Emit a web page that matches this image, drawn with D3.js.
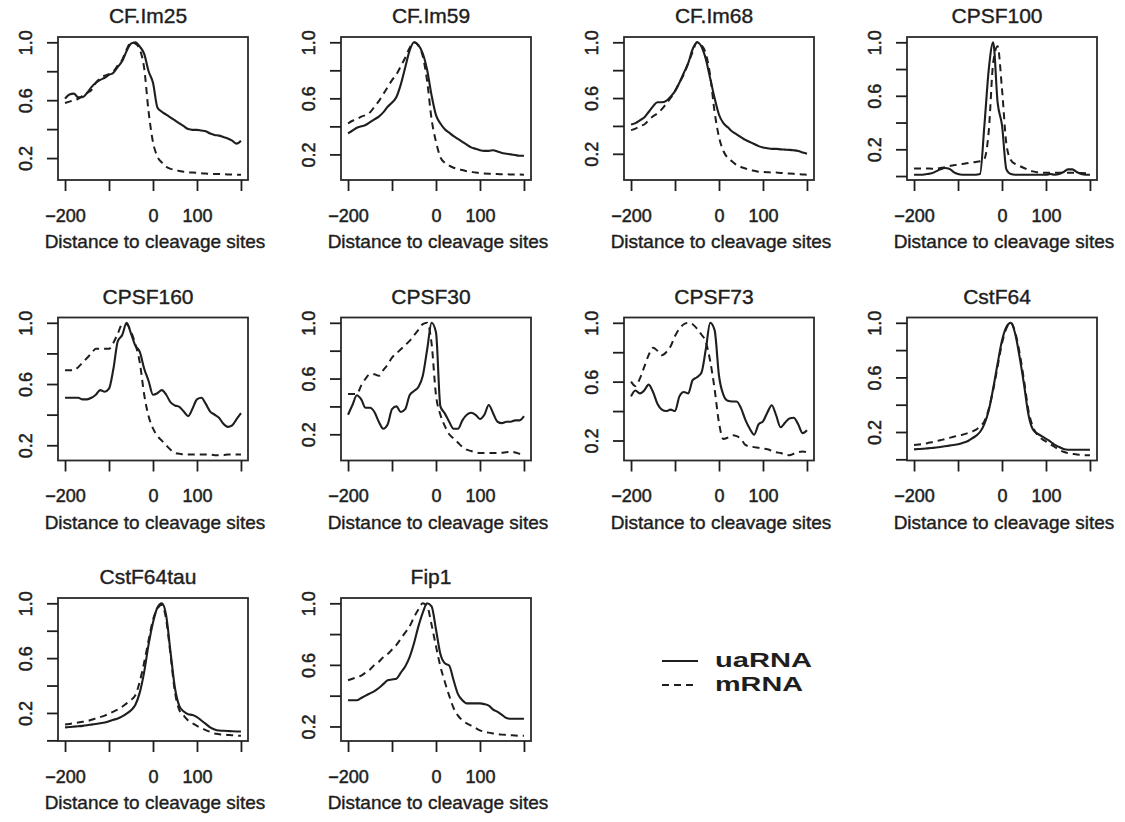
<!DOCTYPE html>
<html>
<head>
<meta charset="utf-8">
<script src="https://cdn.jsdelivr.net/npm/d3@7"></script>
<style>
  html, body { margin: 0; padding: 0; background: #fff; }
  svg { display: block; font-family: "Liberation Sans", Arial, Helvetica, sans-serif; }
</style>
</head>
<body>
<svg id="chart" width="1125" height="822"></svg>
<script>
// distance to cleavage site (nt), shared by all curves
const positions = d3.range(-200, 201, 10);

const proteins = ["CF.Im25", "CF.Im59", "CF.Im68", "CPSF100", "CPSF160",
  "CPSF30", "CPSF73", "CstF64", "CstF64tau", "Fip1"];

// normalised signal, uaRNA (solid) and mRNA (dashed), x = -200..200 step 10
const cfim25Ua = [0.61,0.64,0.645,0.62,0.62,0.65,0.69,0.72,0.74,0.755, 0.775,0.79,0.83,0.87,0.94,0.99,1.0,0.97,0.92,0.80, 0.72,0.55,0.52,0.50,0.48,0.46,0.44,0.42,0.40,0.395, 0.395,0.39,0.385,0.37,0.36,0.355,0.345,0.335,0.32,0.30, 0.32];
const cfim25M = [0.58,0.59,0.60,0.61,0.63,0.65,0.67,0.72,0.75,0.77, 0.78,0.80,0.84,0.88,0.95,1.0,0.99,0.95,0.82,0.52, 0.31,0.21,0.17,0.14,0.125,0.12,0.11,0.105,0.10,0.10, 0.098,0.095,0.093,0.09,0.09,0.09,0.088,0.087,0.086,0.085, 0.085];

const cfim59Ua = [0.35,0.37,0.39,0.40,0.41,0.43,0.45,0.47,0.50,0.54, 0.57,0.61,0.70,0.82,0.94,1.0,0.98,0.92,0.80,0.62, 0.48,0.42,0.38,0.355,0.33,0.31,0.29,0.27,0.25,0.24, 0.23,0.225,0.225,0.23,0.22,0.21,0.205,0.20,0.195,0.19, 0.19];
const cfim59M = [0.42,0.44,0.45,0.47,0.48,0.50,0.54,0.58,0.63,0.68, 0.73,0.77,0.83,0.89,0.96,1.0,0.975,0.90,0.72,0.45, 0.29,0.18,0.14,0.12,0.105,0.095,0.088,0.08,0.075,0.07, 0.066,0.064,0.062,0.06,0.06,0.058,0.058,0.057,0.056,0.056, 0.055];

const cfim68Ua = [0.41,0.42,0.44,0.46,0.50,0.54,0.57,0.57,0.58,0.61, 0.65,0.71,0.78,0.85,0.95,1.0,0.97,0.88,0.74,0.60, 0.48,0.42,0.39,0.36,0.34,0.32,0.30,0.285,0.27,0.255, 0.245,0.24,0.235,0.235,0.232,0.23,0.228,0.225,0.22,0.21, 0.20];
const cfim68M = [0.37,0.38,0.40,0.41,0.44,0.47,0.49,0.52,0.56,0.60, 0.65,0.71,0.77,0.85,0.93,1.0,0.98,0.92,0.76,0.50, 0.32,0.22,0.17,0.145,0.12,0.105,0.095,0.085,0.078,0.072, 0.07,0.068,0.066,0.065,0.063,0.06,0.058,0.056,0.054,0.052, 0.05];

const cpsf100Ua = [0.01,0.01,0.01,0.015,0.02,0.035,0.05,0.06,0.055,0.03, 0.015,0.01,0.01,0.01,0.01,0.015,0.38,0.80,1.0,0.55, 0.38,0.05,0.015,0.01,0.01,0.01,0.01,0.01,0.01,0.01, 0.01,0.015,0.01,0.015,0.03,0.05,0.05,0.03,0.015,0.01, 0.01];
const cpsf100M = [0.057,0.057,0.056,0.056,0.055,0.055,0.06,0.065,0.075,0.08, 0.085,0.09,0.095,0.10,0.105,0.11,0.13,0.34,0.85,0.97, 0.65,0.24,0.12,0.09,0.075,0.06,0.045,0.035,0.028,0.025, 0.024,0.024,0.024,0.024,0.024,0.024,0.024,0.023,0.022,0.021, 0.02];

const cpsf160Ua = [0.51,0.51,0.51,0.51,0.50,0.50,0.51,0.53,0.56,0.55, 0.57,0.70,0.88,0.92,1.0,0.93,0.85,0.81,0.70,0.62, 0.53,0.54,0.56,0.53,0.48,0.46,0.45,0.42,0.39,0.44, 0.50,0.51,0.47,0.42,0.40,0.38,0.34,0.32,0.33,0.37, 0.41];
const cpsf160M = [0.69,0.69,0.69,0.71,0.74,0.77,0.80,0.83,0.83,0.83, 0.83,0.87,0.93,0.99,0.99,0.94,0.86,0.74,0.53,0.39, 0.31,0.26,0.23,0.20,0.17,0.15,0.145,0.14,0.14,0.14, 0.14,0.14,0.14,0.14,0.135,0.135,0.135,0.14,0.14,0.14, 0.14];

const cpsf30Ua = [0.34,0.41,0.48,0.45,0.39,0.39,0.36,0.29,0.24,0.27, 0.38,0.40,0.36,0.38,0.48,0.51,0.54,0.62,0.81,1.0, 0.93,0.40,0.35,0.29,0.24,0.24,0.30,0.34,0.355,0.34, 0.31,0.34,0.41,0.35,0.29,0.28,0.29,0.29,0.30,0.30, 0.33];
const cpsf30M = [0.49,0.49,0.49,0.55,0.60,0.63,0.63,0.62,0.66,0.70, 0.75,0.78,0.81,0.84,0.87,0.91,0.95,0.99,1.0,0.85, 0.48,0.34,0.26,0.20,0.17,0.14,0.11,0.09,0.08,0.07, 0.065,0.065,0.065,0.065,0.065,0.068,0.072,0.075,0.07,0.06, 0.05];

const cpsf73Ua = [0.50,0.54,0.52,0.54,0.58,0.53,0.45,0.41,0.40,0.41, 0.40,0.50,0.53,0.52,0.61,0.63,0.66,0.82,1.0,0.95, 0.64,0.51,0.47,0.465,0.465,0.42,0.34,0.28,0.24,0.31, 0.33,0.39,0.44,0.37,0.29,0.32,0.35,0.355,0.31,0.25, 0.27];
const cpsf73M = [0.60,0.57,0.62,0.70,0.78,0.83,0.81,0.78,0.80,0.84, 0.91,0.96,0.99,1.0,0.99,0.96,0.92,0.87,0.74,0.55, 0.32,0.21,0.22,0.235,0.23,0.21,0.17,0.16,0.155,0.15, 0.145,0.14,0.13,0.12,0.115,0.105,0.10,0.11,0.12,0.125, 0.12];

const cstf64Ua = [0.073,0.075,0.077,0.08,0.083,0.086,0.09,0.095,0.10,0.105, 0.11,0.12,0.13,0.15,0.17,0.20,0.26,0.36,0.52,0.70, 0.87,0.97,1.0,0.92,0.75,0.55,0.33,0.22,0.19,0.17, 0.15,0.13,0.105,0.09,0.075,0.07,0.07,0.07,0.07,0.07, 0.07];
const cstf64M = [0.105,0.108,0.112,0.118,0.125,0.132,0.14,0.148,0.156,0.165, 0.173,0.18,0.19,0.20,0.215,0.24,0.28,0.37,0.51,0.68, 0.85,0.96,1.0,0.93,0.78,0.58,0.36,0.24,0.18,0.15, 0.13,0.11,0.09,0.07,0.055,0.045,0.04,0.035,0.033,0.03, 0.03];

const cstf64tauUa = [0.095,0.097,0.10,0.103,0.106,0.11,0.115,0.12,0.125,0.13, 0.14,0.15,0.16,0.175,0.195,0.22,0.26,0.35,0.50,0.70, 0.86,0.97,1.0,0.91,0.64,0.38,0.25,0.21,0.19,0.185, 0.17,0.145,0.12,0.095,0.08,0.072,0.07,0.068,0.066,0.065, 0.065];
const cstf64tauM = [0.115,0.12,0.125,0.13,0.135,0.14,0.15,0.16,0.17,0.18, 0.195,0.21,0.225,0.245,0.27,0.295,0.33,0.43,0.57,0.73, 0.88,0.96,0.99,0.88,0.62,0.35,0.22,0.18,0.145,0.125, 0.105,0.09,0.075,0.062,0.05,0.045,0.042,0.04,0.037,0.035, 0.034];

const fip1Ua = [0.37,0.37,0.37,0.385,0.40,0.415,0.43,0.45,0.475,0.50, 0.505,0.51,0.55,0.59,0.65,0.74,0.85,0.94,1.0,0.98, 0.83,0.67,0.61,0.595,0.50,0.41,0.37,0.35,0.35,0.35, 0.35,0.345,0.335,0.31,0.295,0.275,0.255,0.25,0.25,0.25, 0.25];
const fip1M = [0.50,0.51,0.52,0.53,0.55,0.57,0.60,0.62,0.65,0.67, 0.70,0.73,0.77,0.81,0.85,0.91,0.96,1.0,0.98,0.86, 0.72,0.59,0.49,0.40,0.32,0.27,0.24,0.22,0.205,0.19, 0.175,0.165,0.16,0.155,0.15,0.147,0.145,0.143,0.141,0.14, 0.14];

const uaSeries = [cfim25Ua, cfim59Ua, cfim68Ua, cpsf100Ua, cpsf160Ua, cpsf30Ua, cpsf73Ua, cstf64Ua, cstf64tauUa, fip1Ua];
const mSeries = [cfim25M, cfim59M, cfim68M, cpsf100M, cpsf160M, cpsf30M, cpsf73M, cstf64M, cstf64tauM, fip1M];

const xTicks = [-200, -100, 0, 100, 200];
const xLabelled = [-200, 0, 100];
const yTicks = [0, 0.2, 0.4, 0.6, 0.8, 1.0];
const yLabelled = [0.2, 0.6, 1.0];
const seriesNames = ["uaRNA", "mRNA"];

const svg = d3.select("#chart");
const ink = "#1e1e1e";
const boxW = 190, boxH = 143;
const colStep = 283, rowStep = 280.5;
const left0 = 58, top0 = 37;

// R-style 4% padded ranges
function padded([lo, hi]) {
  const d = (hi - lo) * 0.04;
  return [lo - d, hi + d];
}

// scanned original looks heavier than plain regular text
function heavy(sel, w) {
  return sel.attr("stroke", ink).attr("stroke-width", w).style("paint-order", "stroke");
}

const x = d3.scaleLinear().domain(padded([-200, 200])).range([0, boxW]);

proteins.forEach((name, i) => {
  const col = i % 4, row = Math.floor(i / 4);
  const g = svg.append("g")
    .attr("transform", `translate(${left0 + col * colStep},${top0 + row * rowStep})`);

  const ua = uaSeries[i], m = mSeries[i];
  const yDomain = padded(d3.extent(ua.concat(m)));
  const y = d3.scaleLinear().domain(yDomain).range([boxH, 0]);

  const line = d3.line()
    .x((d, j) => x(positions[j]))
    .y((d) => y(d))
    .curve(d3.curveMonotoneX);

  g.append("path")
    .attr("d", line(m))
    .attr("fill", "none")
    .attr("stroke", ink)
    .attr("stroke-width", 2)
    .attr("stroke-dasharray", "7,5");

  g.append("path")
    .attr("d", line(ua))
    .attr("fill", "none")
    .attr("stroke", ink)
    .attr("stroke-width", 2.1);

  g.append("rect")
    .attr("width", boxW)
    .attr("height", boxH)
    .attr("fill", "none")
    .attr("stroke", "#2a2a2a")
    .attr("stroke-width", 1.8);

  const gx = g.append("g")
    .attr("transform", `translate(0,${boxH})`)
    .call(d3.axisBottom(x)
      .tickValues(xTicks)
      .tickSize(11)
      .tickPadding(18)
      .tickFormat((d) => (xLabelled.includes(d) ? (d < 0 ? "\u2212" + Math.abs(d) : d) : "")));

  const inRange = yTicks.filter((t) => t >= yDomain[0] && t <= yDomain[1]);
  const gy = g.append("g")
    .call(d3.axisLeft(y)
      .tickValues(inRange)
      .tickSize(11)
      .tickFormat((d) => (yLabelled.includes(d) ? d.toFixed(1) : "")));

  [gx, gy].forEach((a) => {
    a.select(".domain").remove();
    a.selectAll(".tick line").attr("stroke", ink).attr("stroke-width", 1.8);
    heavy(a.selectAll(".tick text"), 0.5)
      .attr("fill", ink)
      .style("font-size", "18px")
      .style("font-family", "'Liberation Sans', Arial, sans-serif");
  });

  gy.selectAll(".tick text")
    .attr("x", null)
    .attr("dy", null)
    .attr("text-anchor", "middle")
    .attr("transform", "translate(-26,0) rotate(-90)");

  heavy(g.append("text"), 0.4)
    .attr("x", boxW / 2 - 5)
    .attr("y", -14)
    .attr("text-anchor", "middle")
    .attr("fill", ink)
    .style("font-size", "21px")
    .text(name);

  heavy(g.append("text"), 0.4)
    .attr("x", boxW / 2 + 2)
    .attr("y", boxH + 68)
    .attr("text-anchor", "middle")
    .attr("fill", ink)
    .style("font-size", "19px")
    .text("Distance to cleavage sites");
});

// legend
const legend = svg.append("g").attr("transform", "translate(662,661)");
seriesNames.forEach((s, i) => {
  legend.append("line")
    .attr("x1", 0).attr("x2", 36)
    .attr("y1", i * 24).attr("y2", i * 24)
    .attr("stroke", ink)
    .attr("stroke-width", 2)
    .attr("stroke-dasharray", i === 0 ? null : "7,5");
  legend.append("text")
    .attr("x", 53)
    .attr("y", i * 24 + 6)
    .attr("fill", ink)
    .style("font-size", "21px")
    .style("font-weight", "bold")
    .attr("textLength", i === 0 ? 97 : 88)
    .attr("lengthAdjust", "spacingAndGlyphs")
    .text(s);
});
</script>
</body>
</html>
